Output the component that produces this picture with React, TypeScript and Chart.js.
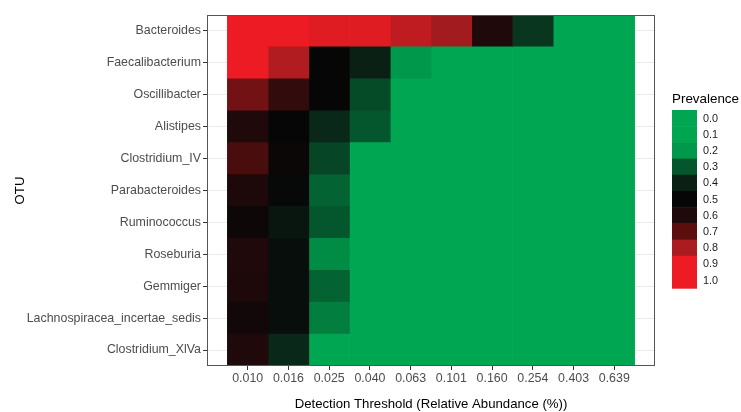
import React, { useEffect, useRef } from 'react';
import { Chart, registerables } from 'chart.js';

Chart.register(...registerables);

const otus = [
  'Bacteroides',
  'Faecalibacterium',
  'Oscillibacter',
  'Alistipes',
  'Clostridium_IV',
  'Parabacteroides',
  'Ruminococcus',
  'Roseburia',
  'Gemmiger',
  'Lachnospiracea_incertae_sedis',
  'Clostridium_XlVa',
];

const thresholds = ['0.010', '0.016', '0.025', '0.040', '0.063', '0.101', '0.160', '0.254', '0.403', '0.639'];

// prevalence per OTU across the detection thresholds
const bacteroides = [1.0, 1.0, 0.88, 0.88, 0.83, 0.79, 0.6, 0.36, 0, 0];
const faecalibacterium = [1.0, 0.81, 0.5, 0.4, 0.2, 0, 0, 0, 0, 0];
const oscillibacter = [0.73, 0.63, 0.5, 0.32, 0, 0, 0, 0, 0, 0];
const alistipes = [0.6, 0.5, 0.385, 0.3, 0, 0, 0, 0, 0, 0];
const clostridiumIV = [0.67, 0.52, 0.33, 0, 0, 0, 0, 0, 0, 0];
const parabacteroides = [0.59, 0.49, 0.28, 0, 0, 0, 0, 0, 0, 0];
const ruminococcus = [0.53, 0.44, 0.3, 0, 0, 0, 0, 0, 0, 0];
const roseburia = [0.6, 0.47, 0.22, 0, 0, 0, 0, 0, 0, 0];
const gemmiger = [0.59, 0.47, 0.28, 0, 0, 0, 0, 0, 0, 0];
const lachnospiracea = [0.55, 0.47, 0.24, 0, 0, 0, 0, 0, 0, 0];
const clostridiumXlVa = [0.6, 0.385, 0, 0, 0, 0, 0, 0, 0, 0];

const prevalence = [
  bacteroides,
  faecalibacterium,
  oscillibacter,
  alistipes,
  clostridiumIV,
  parabacteroides,
  ruminococcus,
  roseburia,
  gemmiger,
  lachnospiracea,
  clostridiumXlVa,
];

const legendValues = [0.0, 0.1, 0.2, 0.3, 0.4, 0.5, 0.6, 0.7, 0.8, 0.9, 1.0];

// colour ramp anchors (at legendValues)
const rampColors: number[][] = [
  [0, 166, 81],
  [0, 165, 80],
  [0, 153, 75],
  [4, 86, 45],
  [10, 32, 21],
  [6, 6, 6],
  [32, 9, 11],
  [92, 14, 15],
  [170, 28, 32],
  [237, 28, 36],
  [237, 28, 36],
];

function colorFor(v: number): string {
  const x = Math.max(0, Math.min(1, v)) * 10;
  const i = Math.min(9, Math.floor(x));
  const t = x - i;
  const a = rampColors[i];
  const b = rampColors[i + 1];
  const c = a.map((av, k) => Math.round(av + (b[k] - av) * t));
  return `rgb(${c[0]},${c[1]},${c[2]})`;
}

const FONT = "'Liberation Sans', Arial, sans-serif";

const frameAndLegend = {
  id: 'frameAndLegend',
  afterDraw(chart: any) {
    const { ctx, chartArea } = chart;
    ctx.save();
    ctx.strokeStyle = '#555555';
    ctx.lineWidth = 1;
    ctx.strokeRect(
      Math.round(chartArea.left) + 0.5,
      Math.round(chartArea.top) + 0.5,
      Math.round(chartArea.right - chartArea.left) - 1,
      Math.round(chartArea.bottom - chartArea.top) - 1
    );
    // legend
    ctx.fillStyle = '#000000';
    ctx.font = `13.4px ${FONT}`;
    ctx.textAlign = 'left';
    ctx.textBaseline = 'middle';
    ctx.fillText('Prevalence', 672, 99);
    const x0 = 672;
    const y0 = 110;
    const h = 16.2;
    const w = 25;
    legendValues.forEach((v, i) => {
      ctx.fillStyle = colorFor(v);
      ctx.fillRect(x0, y0 + i * h, w, h + 0.5);
      ctx.fillStyle = '#1a1a1a';
      ctx.font = `10.8px ${FONT}`;
      ctx.fillText(v.toFixed(1), 703, y0 + i * h + h / 2 + 0.5);
    });
    ctx.restore();
  },
};

export default function App() {
  const ref = useRef<HTMLCanvasElement>(null);
  useEffect(() => {
    if (!ref.current) return;
    const datasets = thresholds.map((th, col) => ({
      label: th,
      data: otus.map(() => [col, col + 1]),
      backgroundColor: otus.map((_, row) => colorFor(prevalence[row][col])),
      borderWidth: 0,
      barPercentage: 1,
      categoryPercentage: 1,
      grouped: false,
    }));
    const chart = new Chart(ref.current, {
      type: 'bar',
      data: { labels: otus, datasets },
      plugins: [frameAndLegend],
      options: {
        animation: false,
        responsive: false,
        indexAxis: 'y',
        layout: { padding: { top: 15, right: 86, left: 0, bottom: 0 } },
        plugins: { legend: { display: false }, tooltip: { enabled: false } },
        scales: {
          x: {
            type: 'linear',
            min: -0.5,
            max: 10.5,
            afterBuildTicks: (scale: any) => {
              scale.ticks = thresholds.map((_, i) => ({ value: i + 0.5 }));
            },
            afterFit: (scale: any) => {
              scale.height = 46;
            },
            ticks: {
              autoSkip: false,
              maxRotation: 0,
              padding: 1,
              color: '#4d4d4d',
              font: { family: FONT, size: 12.4 },
              callback: (_v: any, i: number) => thresholds[i],
            },
            grid: { color: '#ebebeb', tickColor: '#333333', tickLength: 4, drawOnChartArea: true },
            border: { display: false },
            title: {
              display: true,
              text: 'Detection Threshold (Relative Abundance (%))',
              color: '#000000',
              font: { family: FONT, size: 13.2 },
              padding: { top: 0, bottom: 0 },
            },
          },
          y: {
            type: 'category',
            offset: true,
            afterFit: (scale: any) => {
              scale.width = 207;
            },
            ticks: {
              padding: 2,
              color: '#4d4d4d',
              font: { family: FONT, size: 12.4 },
            },
            grid: { color: '#ebebeb', tickColor: '#333333', tickLength: 4, offset: false },
            border: { display: false },
            title: {
              display: true,
              text: 'OTU',
              color: '#000000',
              font: { family: FONT, size: 13.2 },
              padding: { top: 12, bottom: 0 },
            },
          },
        },
      } as any,
    });
    return () => chart.destroy();
  }, []);
  return (
    <div style={{ position: 'fixed', left: 0, top: 0, width: 741, height: 412, background: '#ffffff' }}>
      <canvas ref={ref} width={741} height={412} style={{ width: 741, height: 412, display: 'block' }} />
    </div>
  );
}
